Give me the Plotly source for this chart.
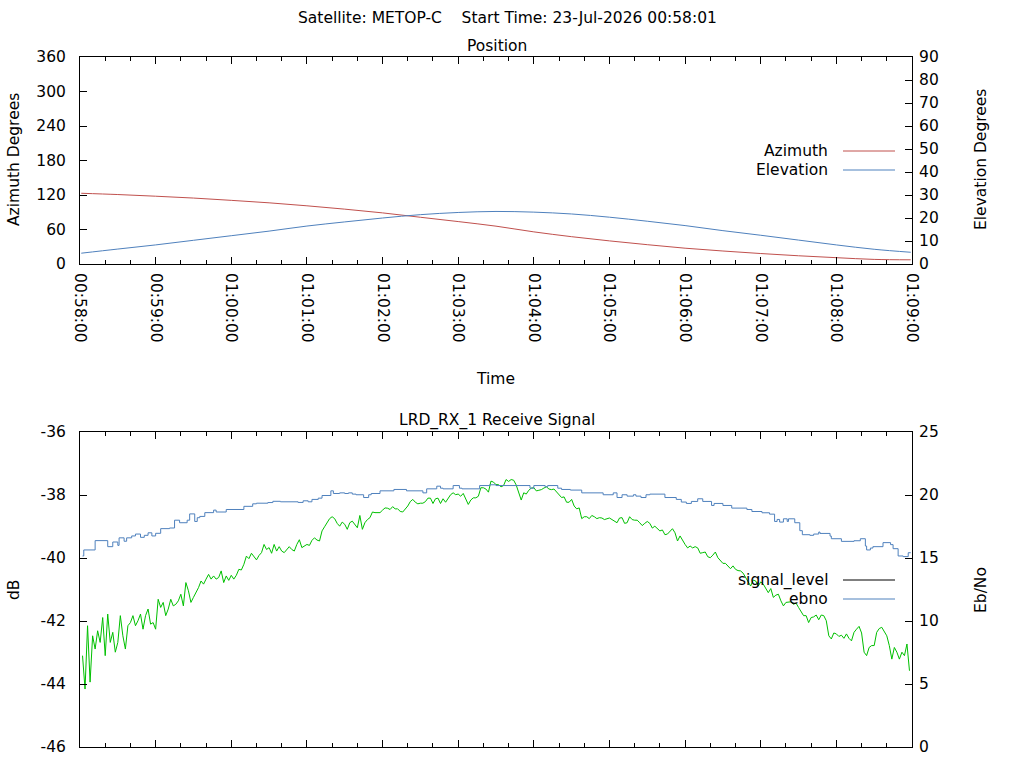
import pandas as pd
import plotly.graph_objects as go

# ---------------- data ----------------
pass_start = "2026-07-23 00:58:00"
axis_start = "2026-07-23 00:58:00"
axis_end = "2026-07-23 01:09:00"
main_title = "Satellite: METOP-C\u00a0\u00a0\u00a0\u00a0Start Time: 23-Jul-2026 00:58:01"

# position samples: seconds after 00:58:00
pos_t = [1, 30, 60, 90, 120, 150, 180, 210, 240, 270, 300, 330, 360, 390, 420,
         450, 480, 510, 540, 570, 600, 630, 659]
azimuth = [123.0, 120.8, 117.9, 114.7, 110.7, 106.4, 101.2, 95.4, 88.9, 81.3, 73.8,
           65.8, 55.9, 47.5, 40.2, 33.6, 27.5, 22.6, 18.2, 14.3, 11.0, 8.0, 7.3]
elevation = [4.7, 6.5, 8.3, 10.3, 12.3, 14.3, 16.5, 18.3, 20.0, 21.45, 22.4, 22.85,
             22.55, 21.75, 20.35, 18.6, 16.7, 14.5, 12.5, 10.4, 8.3, 6.4, 5.1]

# signal level (dB), one sample every 2 s starting 2 s after 00:58:00
signal_start_s = 2
signal_step_s = 2
signal_level = [
    -43.10, -44.16, -42.15, -43.94, -42.47, -42.89, -42.31, -42.68, -41.89, -43.10,
    -41.78, -42.68, -42.36, -42.99, -42.68, -41.83, -42.47, -42.89, -42.15, -42.05,
    -41.83, -42.15, -41.99, -41.78, -42.26, -41.83, -41.62, -42.10, -42.05, -42.26,
    -41.31, -41.57, -41.41, -41.83, -41.62, -41.31, -41.52, -41.47, -41.36, -41.15,
    -41.52, -40.78, -41.04, -41.41, -41.25, -41.10, -40.94, -40.73, -40.83, -40.67,
    -40.52, -40.67, -40.57, -40.67, -40.62, -40.41, -40.78, -40.57, -40.71, -40.55,
    -40.67, -40.55, -40.36, -40.38, -40.20, -39.94, -40.02, -39.85, -39.96, -40.06,
    -39.92, -39.83, -39.57, -39.73, -39.67, -39.85, -39.57, -39.78, -39.64, -39.78,
    -39.83, -39.73, -39.64,
    -39.73, -39.78, -39.57, -39.42, -39.67, -39.62, -39.57, -39.60, -39.44, -39.36,
    -39.43, -39.46, -39.14, -39.01, -38.86, -38.75, -38.69, -38.75, -38.90, -38.99,
    -38.86, -38.93, -39.09, -38.88, -38.83, -38.93, -39.04, -38.65, -39.09, -38.88,
    -38.78, -38.72, -38.54, -38.56, -38.56, -38.56, -38.48, -38.41, -38.42, -38.46,
    -38.37, -38.44, -38.44, -38.52, -38.54, -38.44, -38.35, -38.21, -38.14, -38.23,
    -38.28, -38.26, -38.26, -38.21, -38.10, -38.10, -38.27, -38.12, -38.10, -38.27,
    -38.12, -38.23, -38.12, -37.99, -37.93, -37.99, -37.97, -38.04, -37.95, -38.14,
    -38.30, -38.16, -38.09, -38.09, -38.04, -37.77, -37.77, -37.81, -37.91, -37.56,
    -37.59, -37.67,
    -37.67, -37.74, -37.70, -37.51, -37.57, -37.51, -37.53, -37.68, -37.95, -38.16,
    -37.93, -37.97, -37.85, -37.78, -37.77, -37.87, -37.85, -37.83, -37.78, -37.74,
    -37.81, -37.83, -37.81, -37.89, -37.99, -38.08, -38.06, -38.23, -38.23, -38.14,
    -38.35, -38.44, -38.41, -38.75, -38.69, -38.69, -38.75, -38.65, -38.69, -38.75,
    -38.72, -38.73, -38.78, -38.75, -38.73, -38.78, -38.83, -38.88, -38.73, -38.72,
    -38.90, -38.88, -38.69, -38.78, -38.80, -38.80, -38.88, -38.97, -38.90, -38.84,
    -38.90, -39.05, -38.99, -39.07, -39.14, -39.11, -39.26, -39.24, -39.14, -39.07,
    -39.20, -39.46, -39.30, -39.45, -39.57, -39.68, -39.62, -39.68, -39.64, -39.68,
    -39.85, -39.83, -39.81,
    -39.96, -39.99, -39.91, -39.81, -39.99, -40.09, -40.17, -40.17, -40.25, -40.34,
    -40.25, -40.36, -40.40, -40.41, -40.48, -40.62, -40.73, -40.89, -40.70, -40.73,
    -40.89, -40.76, -40.83, -40.97, -41.10, -40.97, -41.25, -41.18, -41.15, -41.36,
    -41.52, -41.41, -41.41, -41.39, -41.47, -41.43, -41.57, -41.71, -41.83, -41.83,
    -42.05, -41.89, -41.87, -41.81, -41.96, -41.81, -41.83, -41.99, -42.47, -42.57,
    -42.38, -42.41, -42.49, -42.45, -42.55, -42.41, -42.55, -42.63, -42.36, -42.26,
    -42.17, -42.38, -42.99, -43.10, -42.84, -42.78, -42.78, -42.36, -42.24, -42.20,
    -42.34, -42.47, -42.78, -43.21, -42.84, -42.99, -43.21, -42.99, -43.10, -42.73,
    -43.58,
]

# Eb/No (step changes): seconds after 00:58:00 and value
ebno_t = [2, 3, 12, 22, 26, 30, 31, 35, 37, 41, 44, 48, 51, 54, 57, 60, 64, 71, 75, 79,
          85, 87, 91, 93, 95, 99, 106, 108, 116, 130, 137, 140, 149, 153, 159,
          173, 177, 181, 184, 189, 192, 199, 201, 206, 210, 213, 216, 219, 225, 229,
          231, 238, 249, 259, 272, 275, 283, 286, 288, 296, 301, 303, 317,
          325, 330, 357, 360, 369, 371, 379, 382, 389, 398, 415, 423, 426, 430, 434,
          439, 441, 445, 449, 452, 464, 473, 477, 481, 485, 490,
          494, 501, 503, 510, 517, 529, 533, 541, 547, 551, 553, 555, 558, 561, 562,
          567, 571, 573, 579, 582, 586, 587, 595, 596, 604, 614, 619, 623, 624, 627,
          629, 637, 643, 645, 649, 653, 657, 659]
ebno = [15.16, 15.64, 16.38, 15.90, 16.27, 16.00, 16.60, 16.33, 16.60, 16.75, 16.90,
        16.64, 16.80, 17.00, 16.75, 16.96, 17.33, 17.38, 18.00, 17.80, 18.00, 18.50,
        17.90, 18.20, 18.30, 18.60, 18.80, 18.65, 18.85, 19.10, 19.30, 19.35, 19.40,
        19.50, 19.46,
        19.41, 19.54, 19.46, 19.65, 19.75, 19.96, 20.33, 20.12, 20.17, 20.12, 20.17,
        20.07, 20.02, 19.80, 20.02, 20.12, 20.33, 20.44, 20.33, 20.17, 20.49, 20.70,
        20.54, 20.49, 20.75, 20.54, 20.49, 20.75,
        20.81, 20.75, 20.54, 20.75, 20.65, 20.75, 20.54, 20.44, 20.39, 20.17, 20.02,
        20.17, 19.80, 20.02, 19.91, 20.02, 19.91, 19.80, 20.02, 20.07, 19.80, 19.65,
        19.44, 19.33, 19.49, 19.70,
        19.49, 19.17, 19.33, 19.17, 18.96, 18.85, 18.69, 18.59, 18.48, 17.90, 18.06,
        17.85, 18.11, 17.90, 18.11, 17.80, 17.17, 16.85, 16.80, 16.90, 17.06, 16.95,
        16.74, 16.53, 16.32, 16.37, 16.53, 15.95, 15.64, 15.79, 15.90, 16.22, 16.06,
        15.74, 15.16, 15.11, 15.42, 15.42]

# tick values / labels for the dB axis (ASCII hyphen, as in the reference)
db_ticks = [-46, -44, -42, -40, -38, -36]
db_tick_labels = ["-46", "-44", "-42", "-40", "-38", "-36"]

# ---------------- styling ----------------
RED = "#c0504d"
BLUE = "#4f81bd"
GREEN = "#00c000"
FONT = "DejaVu Sans"
FS = 15.5

W, H = 1024, 768
PL, PR, PT, PB = 80, 912, 57, 747   # plot area in pixels


def px_x(x):
    return (x - PL) / (PR - PL)


def px_y(y):
    return (PB - y) / (PB - PT)


base = pd.Timestamp(pass_start)


def to_time(secs):
    return [base + pd.Timedelta(seconds=s) for s in secs]


signal_t = [signal_start_s + i * signal_step_s for i in range(len(signal_level))]

fig = go.Figure()
fig.add_trace(go.Scatter(x=to_time(pos_t), y=azimuth, mode="lines", name="Azimuth",
                         line=dict(color=RED, width=1, shape="spline"),
                         xaxis="x", yaxis="y", showlegend=False))
fig.add_trace(go.Scatter(x=to_time(pos_t), y=elevation, mode="lines", name="Elevation",
                         line=dict(color=BLUE, width=1, shape="spline"),
                         xaxis="x", yaxis="y2", showlegend=False))
fig.add_trace(go.Scatter(x=to_time(signal_t), y=signal_level, mode="lines", name="signal_level",
                         line=dict(color=GREEN, width=1),
                         xaxis="x2", yaxis="y3", showlegend=False))
fig.add_trace(go.Scatter(x=to_time(ebno_t), y=ebno, mode="lines", name="ebno",
                         line=dict(color=BLUE, width=1, shape="hv"),
                         xaxis="x2", yaxis="y4", showlegend=False))

tickfont = dict(family=FONT, size=FS, color="black")
common_x = dict(type="date", range=[axis_start, axis_end], tick0=axis_start, dtick=60000,
                tickformat="%H:%M:%S", ticks="inside", ticklen=7, tickcolor="black",
                showline=True, linecolor="black", linewidth=1, mirror="ticks",
                showgrid=False, zeroline=False, tickfont=tickfont,
                minor=dict(tick0=axis_start, dtick=20000, ticks="inside", ticklen=4,
                           tickcolor="black", showgrid=False))
common_y = dict(ticks="inside", ticklen=7, tickcolor="black", showline=True,
                linecolor="black", linewidth=1, showgrid=False, zeroline=False,
                tickfont=tickfont)

top_bottom = px_y(264)
bot_top = px_y(432)

fig.update_layout(
    width=W, height=H,
    margin=dict(l=PL, r=W - PR, t=PT, b=H - PB, autoexpand=False),
    paper_bgcolor="white", plot_bgcolor="white",
    font=dict(family=FONT, size=FS, color="black"),
    showlegend=False,
    xaxis=dict(domain=[0, 1], anchor="y", tickangle=90, ticklabelstandoff=5, **common_x),
    xaxis2=dict(domain=[0, 1], anchor="y3", showticklabels=False, **common_x),
    yaxis=dict(domain=[top_bottom, 1], anchor="x", range=[0, 360], tick0=0, dtick=60,
               ticklabelstandoff=10, **common_y),
    yaxis2=dict(overlaying="y", side="right", anchor="x", range=[0, 90], tick0=0, dtick=10,
                ticklabelstandoff=3, **common_y),
    yaxis3=dict(domain=[0, bot_top], anchor="x2", range=[-46, -36], tickmode="array",
                tickvals=db_ticks, ticktext=db_tick_labels,
                ticklabelstandoff=10, **common_y),
    yaxis4=dict(overlaying="y3", side="right", anchor="x2", range=[0, 25], tick0=0, dtick=5,
                ticklabelstandoff=3, **common_y),
)


def label(text, x, y, angle=0, xanchor="center"):
    fig.add_annotation(text=text, x=px_x(x), y=px_y(y), xref="paper", yref="paper",
                       showarrow=False, xanchor=xanchor, yanchor="middle", textangle=angle,
                       font=dict(family=FONT, size=FS, color="black"))


label(main_title, 507, 18)
label("Position", 497, 46)
label("LRD_RX_1 Receive Signal", 497, 420)
label("Time", 495, 379)
label("Azimuth Degrees", 14, 160, angle=-90)
label("Elevation Degrees", 981, 160, angle=-90)
label("dB", 14, 590, angle=-90)
label("Eb/No", 981, 590, angle=-90)

# key (text on the left, sample line on the right, as in the reference)
key_entries = [("Azimuth", RED, 151), ("Elevation", BLUE, 170),
               ("signal_level", "black", 580), ("ebno", BLUE, 599)]
for text, color, y in key_entries:
    label(text, 830, y, xanchor="right")
    fig.add_shape(type="line", xref="paper", yref="paper",
                  x0=px_x(843), x1=px_x(895), y0=px_y(y), y1=px_y(y),
                  line=dict(color=color, width=1))

fig.write_html("out.html", config={"displayModeBar": False},
               post_script="document.body.style.margin='0px';")
